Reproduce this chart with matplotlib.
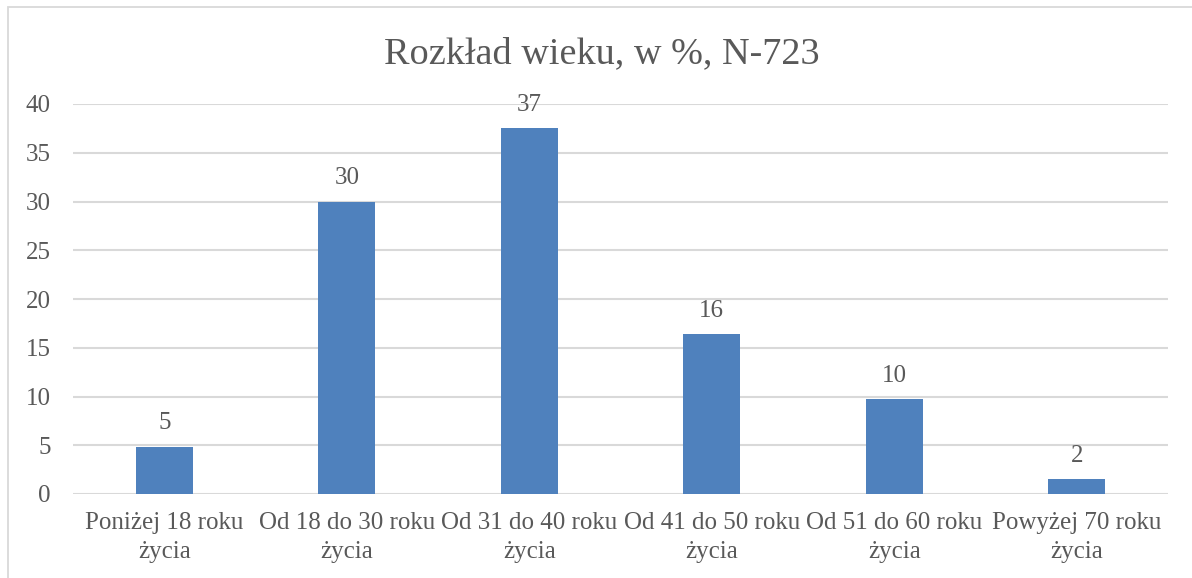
import matplotlib
matplotlib.use("Agg")
import matplotlib.pyplot as plt
from matplotlib.patches import Rectangle

categories = ["Poniżej 18 roku\nżycia", "Od 18 do 30 roku\nżycia", "Od 31 do 40 roku\nżycia",
              "Od 41 do 50 roku\nżycia", "Od 51 do 60 roku\nżycia", "Powyżej 70 roku\nżycia"]
values = [4.85, 30.0, 37.5, 16.4, 9.7, 1.5]
labels = ["5", "30", "37", "16", "10", "2"]
yticks = [0, 5, 10, 15, 20, 25, 30, 35, 40]

TEXT = "#595959"
GRID = "#D9D9D9"
BAR = "#4F81BD"
FONT = "Liberation Serif"

plt.rcParams['font.family'] = [FONT, 'DejaVu Serif']

W, H = 1192, 578
fig = plt.figure(figsize=(W/100, H/100), dpi=100)
fig.patch.set_facecolor("white")

# chart frame
fig.add_artist(Rectangle((8/W, -0.1), 1.2, 1.1 - 7/H, transform=fig.transFigure,
                         fill=False, edgecolor=GRID, linewidth=1.3))

ax = fig.add_axes([73/W, 1-494/H, (1168-73)/W, (494-104)/H])
x = list(range(len(categories)))
bars = ax.bar(x, values, width=0.31, color=BAR, zorder=3)
for xi, v, lab in zip(x, values, labels):
    ax.annotate(lab, (xi, v), xytext=(0, 9), textcoords="offset points",
                ha="center", va="bottom", fontsize=18, color=TEXT)

ax.set_xlim(-0.5, 5.5)
ax.set_ylim(0, 40)
ax.set_yticks(yticks)
ax.set_yticklabels([str(t) for t in yticks], fontsize=18, color=TEXT)
ax.set_xticks(x)
ax.set_xticklabels(categories, fontsize=18, color=TEXT, linespacing=1.4)
ax.tick_params(axis="y", length=0, pad=16)
ax.tick_params(axis="x", length=0, pad=13)
ax.grid(axis="y", color=GRID, linewidth=1.5, zorder=0)
for s in ax.spines.values():
    s.set_visible(False)

fig.text(602/W, 1-63/H, "Rozkład wieku, w %, N-723", ha="center", va="baseline",
         fontsize=27.5, color=TEXT)

fig.savefig("out.png", dpi=100)
